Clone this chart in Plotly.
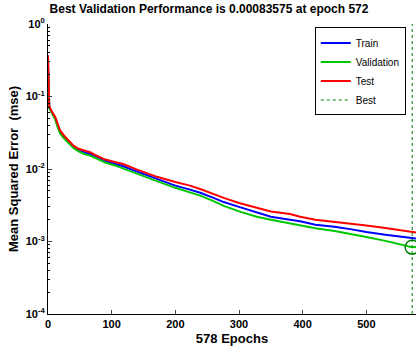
import plotly.graph_objects as go

epochs = [0, 1, 2, 3, 5, 8, 11, 15, 19, 25, 32, 40, 48, 58, 66, 74, 90, 105, 118, 140,
          171, 200, 223, 239, 260, 276, 300, 328, 350, 380, 396, 420, 450, 477, 500,
          530, 550, 572, 578]

test_mse = [0.37, 0.089, 0.075, 0.07, 0.066, 0.058, 0.053, 0.042, 0.034, 0.029, 0.025,
            0.021, 0.019, 0.0178, 0.0170, 0.0156, 0.0135, 0.0125, 0.0117, 0.0098, 0.0078,
            0.0066, 0.0059, 0.0053, 0.0045, 0.0040, 0.0034, 0.0029, 0.0026, 0.0024, 0.0022,
            0.0020, 0.00188, 0.00178, 0.00166, 0.00153, 0.00145, 0.00135, 0.00133]

train_mse = [0.3, 0.085, 0.072, 0.068, 0.063, 0.056, 0.051, 0.040, 0.033, 0.028, 0.024,
             0.0205, 0.0183, 0.0168, 0.0161, 0.015, 0.0129, 0.0118, 0.0109, 0.0092, 0.0073,
             0.0059, 0.0052, 0.0047, 0.0040, 0.0035, 0.0030, 0.0025, 0.0022, 0.0020, 0.0019,
             0.0017, 0.0016, 0.00147, 0.00135, 0.00124, 0.00118, 0.00111, 0.00110]

val_mse = [0.25, 0.082, 0.07, 0.066, 0.061, 0.054, 0.049, 0.038, 0.031, 0.0265, 0.0228,
           0.0195, 0.0175, 0.016, 0.0153, 0.0143, 0.0123, 0.0112, 0.0102, 0.0086, 0.0068,
           0.0055, 0.0048, 0.0043, 0.0036, 0.0031, 0.0026, 0.0022, 0.0020, 0.00178, 0.0017,
           0.00152, 0.0014, 0.00127, 0.00115, 0.00102, 0.00093, 0.00083575, 0.00084]

best_epoch = 572
best_val = 0.00083575
total_epochs = 578
y_limits = [1e-4, 1e0]
x_ticks = [0, 100, 200, 300, 400, 500]
y_ticks = [1e-4, 1e-3, 1e-2, 1e-1, 1e0]
y_ticklabels = ["10<sup>-4</sup>", "10<sup>-3</sup>", "10<sup>-2</sup>",
                "10<sup>-1</sup>", "10<sup>0</sup>"]

fig = go.Figure()
fig.add_trace(go.Scatter(x=epochs, y=train_mse, mode="lines", name="Train",
                         line=dict(color="rgb(0,0,255)", width=2)))
fig.add_trace(go.Scatter(x=epochs, y=val_mse, mode="lines", name="Validation",
                         line=dict(color="rgb(0,200,0)", width=2)))
fig.add_trace(go.Scatter(x=epochs, y=test_mse, mode="lines", name="Test",
                         line=dict(color="rgb(255,0,0)", width=2)))
fig.add_trace(go.Scatter(x=[best_epoch, best_epoch], y=y_limits, mode="lines", name="Best",
                         line=dict(color="rgb(0,128,0)", width=1, dash="dot")))
fig.add_trace(go.Scatter(x=[best_epoch], y=[best_val], mode="markers", showlegend=False,
                         marker=dict(symbol="circle-open", size=14,
                                     line=dict(color="rgb(0,128,0)", width=1.5),
                                     color="rgb(0,128,0)")))

bold = dict(family="Liberation Sans, Arial", size=11, color="black", weight="bold")

fig.update_layout(
    width=418, height=354,
    margin=dict(l=48, r=2, t=24, b=40),
    paper_bgcolor="white", plot_bgcolor="white",
    title=dict(text="Best Validation Performance is 0.00083575 at epoch 572",
               x=0.5, xanchor="center", y=0.975, yanchor="middle",
               font=dict(family="Liberation Sans, Arial", size=12, color="black", weight="bold")),
    showlegend=True,
    legend=dict(x=0.725, y=0.988, xanchor="left", yanchor="top",
                bgcolor="white", bordercolor="black", borderwidth=1,
                font=dict(family="Liberation Sans, Arial", size=10, color="black"),
                itemwidth=30, tracegroupgap=0),
)
fig.update_xaxes(range=[0, total_epochs], tickvals=x_ticks, ticks="inside", ticklen=4,
                 showline=True, linecolor="black", linewidth=1, mirror=False,
                 showgrid=False, zeroline=False, tickfont=bold,
                 title=dict(text=f"{total_epochs} Epochs", standoff=4,
                            font=dict(family="Liberation Sans, Arial", size=13,
                                      color="black", weight="bold")))
fig.update_yaxes(type="log", range=[-4, 0], tickvals=y_ticks, ticktext=y_ticklabels,
                 ticks="inside", ticklen=4,
                 minor=dict(ticks="inside", ticklen=2, tickcolor="black", showgrid=False,
                            dtick="D1"),
                 showline=True, linecolor="black", linewidth=1, mirror=False,
                 showgrid=False, zeroline=False, tickfont=bold,
                 title=dict(text="Mean Squared Error  (mse)", standoff=4,
                            font=dict(family="Liberation Sans, Arial", size=13,
                                      color="black", weight="bold")))

fig.write_html("out.html")
